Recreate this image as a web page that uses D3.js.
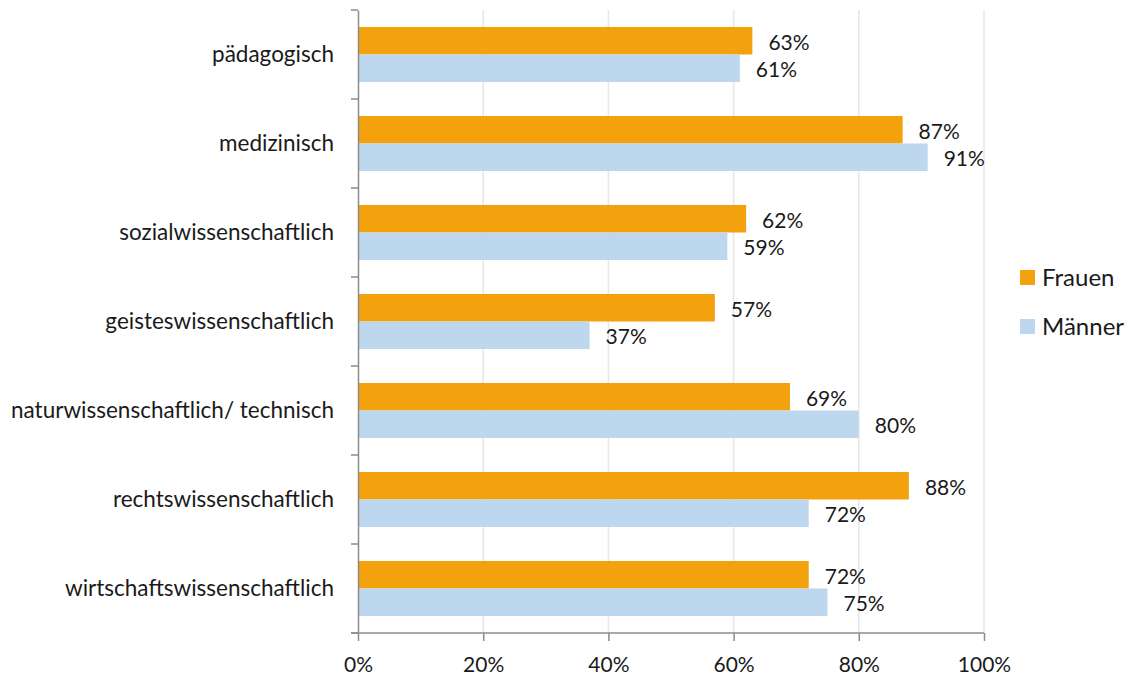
<!DOCTYPE html>
<html><head><meta charset="utf-8">
<script src="https://cdn.jsdelivr.net/npm/d3@7"></script>
<style>
html,body{margin:0;padding:0;background:#fff;}
svg text{font-family:Lato,"Open Sans",sans-serif;fill:#1a1a1a;}
</style></head>
<body><svg id="c" width="1132" height="676"></svg>
<script>
const categories = ["pädagogisch","medizinisch","sozialwissenschaftlich","geisteswissenschaftlich","naturwissenschaftlich/ technisch","rechtswissenschaftlich","wirtschaftswissenschaftlich"];
const seriesNames = ["Frauen","Männer"];
const frauen = [63,87,62,57,69,88,72];
const maenner = [61,91,59,37,80,72,75];
const xTicks = [0,20,40,60,80,100];
const colors = ["#F4A10E","#BDD7EE"];

const svg = d3.select("#c");
const x = d3.scaleLinear().domain([0,100]).range([358,984]);
const y0 = d3.scaleBand().domain(categories).range([10,633]).padding(0);
const y1 = d3.scaleBand().domain(seriesNames).range([0,y0.bandwidth()]).paddingInner(0).paddingOuter(0.618);

// gridlines
svg.append("g").selectAll("line").data(xTicks.slice(1)).join("line")
  .attr("x1",d=>x(d)).attr("x2",d=>x(d)).attr("y1",10).attr("y2",633)
  .attr("stroke","#e6e6e6").attr("stroke-width",1.5);

const data = categories.map((c,i)=>({cat:c, vals:[{s:"Frauen",v:frauen[i]},{s:"Männer",v:maenner[i]}]}));
const g = svg.append("g").selectAll("g").data(data).join("g")
  .attr("transform",d=>`translate(0,${y0(d.cat)})`);
g.selectAll("rect").data(d=>d.vals).join("rect")
  .attr("x",x(0)).attr("y",d=>y1(d.s)).attr("width",d=>x(d.v)-x(0)).attr("height",y1.bandwidth())
  .attr("fill",(d,i)=>colors[i]);
g.selectAll("text.lbl").data(d=>d.vals).join("text").attr("class","lbl")
  .attr("x",d=>x(d.v)+16).attr("y",d=>y1(d.s)+y1.bandwidth()/2+1.5).attr("dy","0.35em")
  .style("font-size","21px").text(d=>d.v+"%");

// y axis
const yAxis = d3.axisLeft(y0).tickSize(0).tickPadding(24);
const ya = svg.append("g").attr("transform","translate(358,0)").call(yAxis);
ya.select(".domain").attr("stroke","#8c8c8c").attr("stroke-width",1.5);
ya.selectAll("text").style("font-size","22.5px").attr("dy","0.35em");
svg.append("g").selectAll("line").data(d3.range(categories.length+1)).join("line")
  .attr("x1",351).attr("x2",358)
  .attr("y1",i=>i<categories.length?y0(categories[i]):y0.range()[1])
  .attr("y2",i=>i<categories.length?y0(categories[i]):y0.range()[1])
  .attr("stroke","#8c8c8c").attr("stroke-width",1.5);

// x axis
const xAxis = d3.axisBottom(x).tickValues(xTicks).tickFormat(d=>d+"%").tickSize(8).tickPadding(16);
const xa = svg.append("g").attr("transform","translate(0,633)").call(xAxis);
xa.select(".domain").attr("stroke","#8c8c8c").attr("stroke-width",1.5).attr("d","M351,0H984");
xa.selectAll(".tick line").attr("stroke","#8c8c8c").attr("stroke-width",1.5);
xa.selectAll("text").style("font-size","21px");

// legend
const leg = svg.append("g").selectAll("g").data(seriesNames).join("g")
  .attr("transform",(d,i)=>`translate(1020,${270+i*49})`);
leg.append("rect").attr("width",15).attr("height",15).attr("fill",(d,i)=>colors[i]);
leg.append("text").attr("x",22).attr("y",8).attr("dy","0.35em").style("font-size","24px").text(d=>d);
</script></body></html>
